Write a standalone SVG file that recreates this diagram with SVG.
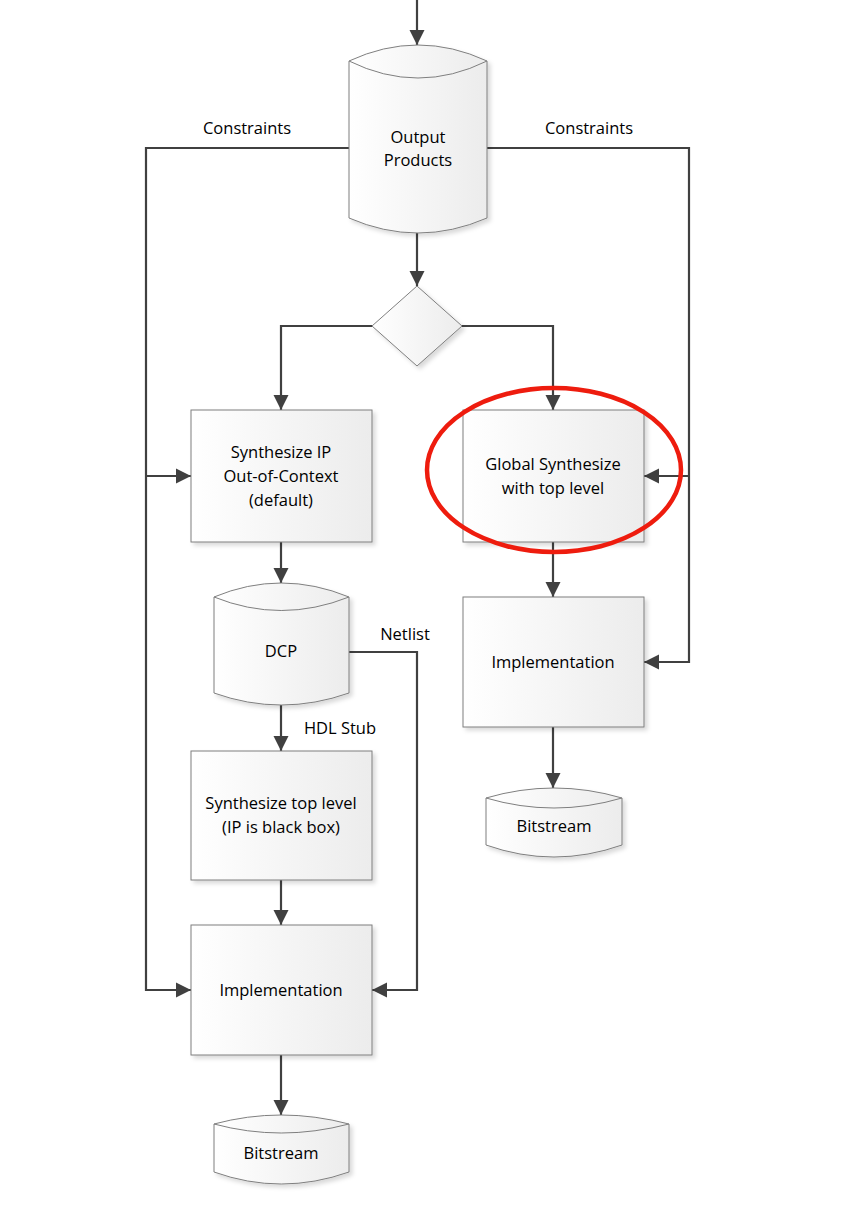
<svg xmlns="http://www.w3.org/2000/svg" width="844" height="1210" viewBox="0 0 844 1210">
<defs>
<linearGradient id="g" x1="0" y1="0" x2="1" y2="0"><stop offset="0" stop-color="#ffffff"/><stop offset="1" stop-color="#ececec"/></linearGradient>
<filter id="sh" x="-10%" y="-10%" width="130%" height="130%"><feDropShadow dx="3" dy="3" stdDeviation="2" flood-color="#000" flood-opacity="0.15"/></filter>
<marker id="a" viewBox="0 0 10 10" refX="10" refY="5" markerWidth="7" markerHeight="7" orient="auto"><path d="M0,0 L10,5 L0,10 z" fill="#404040"/></marker>
<style>
.n{fill:url(#g);stroke:#7f7f7f;stroke-width:1;filter:url(#sh)}
.c{fill:none;stroke:#404040;stroke-width:2.2}
text{font-family:"Open Sans","Liberation Sans",sans-serif;font-size:16.5px;fill:#000;text-anchor:middle}
</style>
</defs>
<g id="connectors">
<path class="c" d="M417,0 V45" marker-end="url(#a)"/>
<path class="c" d="M417,233 V286" marker-end="url(#a)"/>
<path class="c" d="M372,326 H281 V410" marker-end="url(#a)"/>
<path class="c" d="M462,326 H553 V410" marker-end="url(#a)"/>
<path class="c" d="M349,148 H146 V990 H191" marker-end="url(#a)"/>
<path class="c" d="M146,476 H191" marker-end="url(#a)"/>
<path class="c" d="M487,148 H689 V662 H644" marker-end="url(#a)"/>
<path class="c" d="M689,476 H644" marker-end="url(#a)"/>
<path class="c" d="M281,542 V583" marker-end="url(#a)"/>
<path class="c" d="M281,705 V751" marker-end="url(#a)"/>
<path class="c" d="M349,652 H417 V990 H372" marker-end="url(#a)"/>
<path class="c" d="M281,880 V925" marker-end="url(#a)"/>
<path class="c" d="M281,1055 V1115" marker-end="url(#a)"/>
<path class="c" d="M553,542 V597" marker-end="url(#a)"/>
<path class="c" d="M553,727 V788" marker-end="url(#a)"/>
<text x="247" y="134">Constraints</text>
<text x="589" y="134">Constraints</text>
<text x="405" y="640">Netlist</text>
<text x="340" y="734">HDL Stub</text>
</g>
<g id="output-products">
<path class="n" d="M349,61 Q418,29 487,61 V218 Q418,248 349,218 Z"/>
<path d="M349,61 Q418,95 487,61" fill="none" stroke="#7f7f7f"/>
<text x="418" y="143">Output</text><text x="418" y="166">Products</text>
</g>
<g id="decision"><path class="n" d="M417,286 L462,326 L417,366 L372,326 Z"/></g>
<g id="synth-ip"><rect class="n" x="191" y="410" width="181" height="132"/>
<text x="281" y="458">Synthesize IP</text><text x="281" y="482">Out-of-Context</text><text x="281" y="506">(default)</text></g>
<g id="global-synth"><rect class="n" x="463" y="410" width="181" height="132"/>
<text x="553" y="470">Global Synthesize</text><text x="553" y="494">with top level</text></g>
<g id="dcp">
<path class="n" d="M214,597 Q281,569 349,597 V693 Q281,717 214,693 Z"/>
<path d="M214,597 Q281,624 349,597" fill="none" stroke="#7f7f7f"/>
<text x="281" y="657">DCP</text></g>
<g id="impl-right"><rect class="n" x="463" y="597" width="181" height="130"/>
<text x="553" y="668">Implementation</text></g>
<g id="bitstream-right">
<path class="n" d="M486,798 Q554,778 622,798 V845 Q554,869 486,845 Z"/>
<path d="M486,798 Q554,818 622,798" fill="none" stroke="#7f7f7f"/>
<text x="554" y="832">Bitstream</text></g>
<g id="synth-top"><rect class="n" x="191" y="751" width="181" height="129"/>
<text x="281" y="809">Synthesize top level</text><text x="281" y="833">(IP is black box)</text></g>
<g id="impl-left"><rect class="n" x="191" y="925" width="181" height="130"/>
<text x="281" y="996">Implementation</text></g>
<g id="bitstream-left">
<path class="n" d="M214,1124 Q281,1106 349,1124 V1172 Q281,1196 214,1172 Z"/>
<path d="M214,1124 Q281,1142 349,1124" fill="none" stroke="#7f7f7f"/>
<text x="281" y="1159">Bitstream</text></g>
<g id="highlight"><ellipse cx="554" cy="470" rx="127" ry="82" fill="none" stroke="#ee1c0e" stroke-width="4.5"/></g>
</svg>
